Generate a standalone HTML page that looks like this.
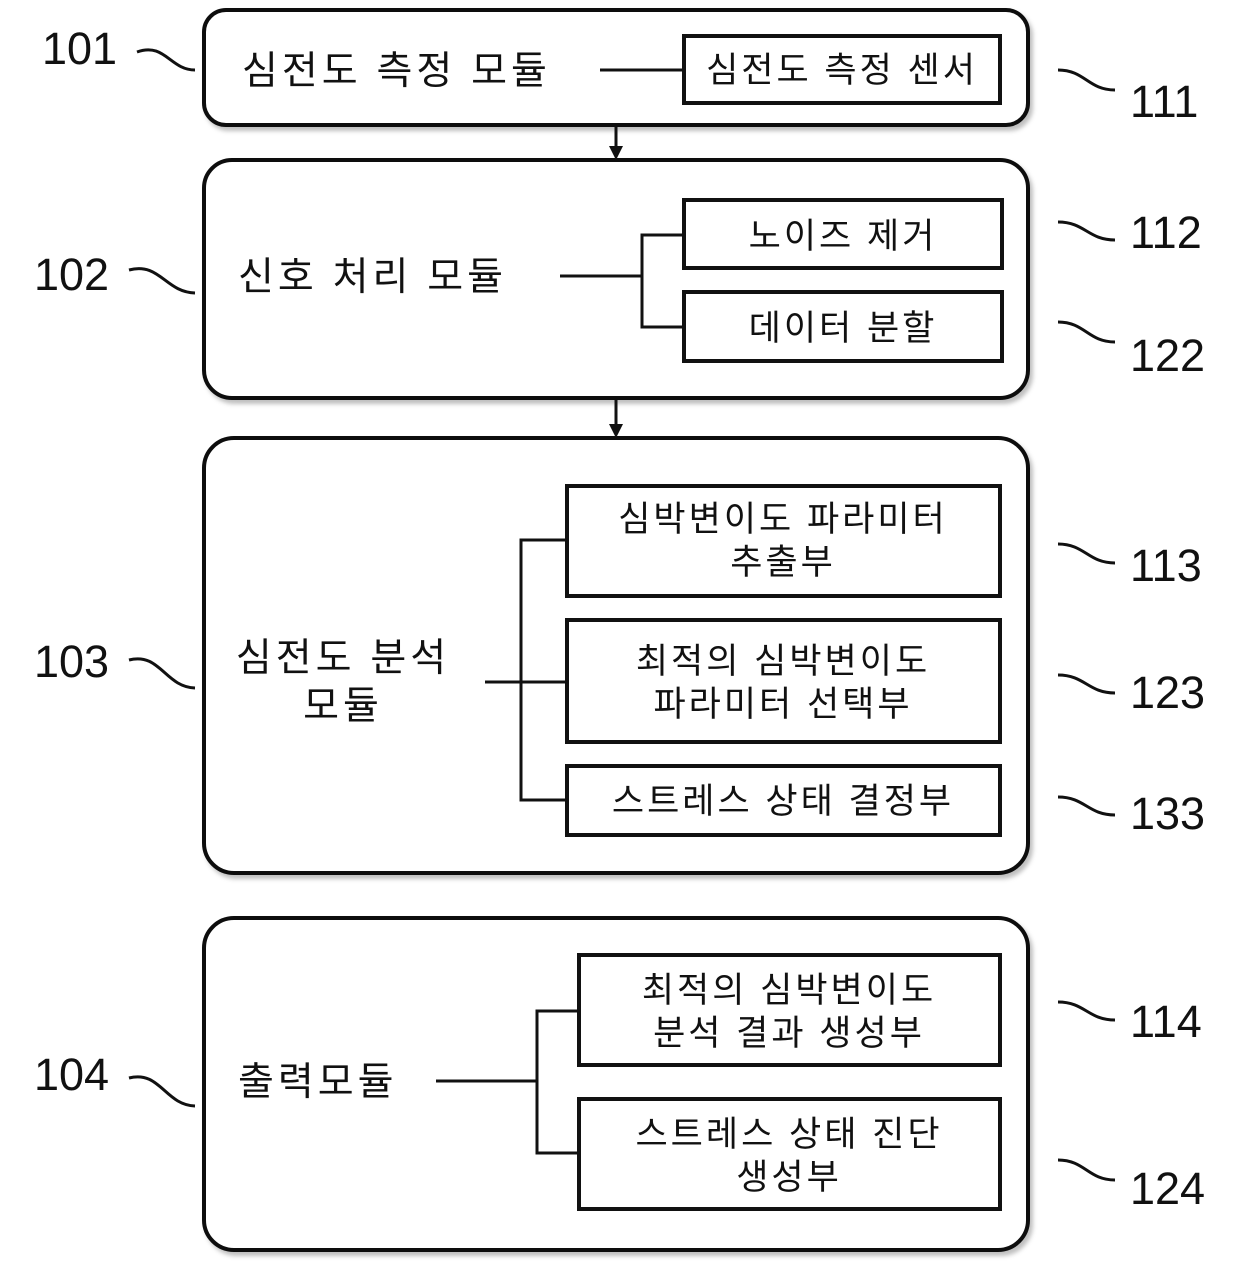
<!DOCTYPE html>
<html><head><meta charset="utf-8"><style>
html,body{margin:0;padding:0;background:#fff;}
svg{display:block;}
text{font-family:"Liberation Sans","Noto Sans CJK KR",sans-serif;fill:#111;}
.k{font-size:39px;letter-spacing:4px;}
.s{font-size:35px;letter-spacing:3px;}
.n{font-size:45px;}
</style></head><body>
<svg width="1240" height="1266" viewBox="0 0 1240 1266" xmlns="http://www.w3.org/2000/svg">
<defs>
<filter id="sh" x="-5%" y="-5%" width="110%" height="115%"><feDropShadow dx="3" dy="4" stdDeviation="2" flood-color="#000" flood-opacity="0.25"/></filter>
</defs>
<g fill="#fff" stroke="#111" stroke-width="4">
<rect x="204" y="10" width="824" height="115" rx="22" filter="url(#sh)"/>
<rect x="204" y="160" width="824" height="238" rx="28" filter="url(#sh)"/>
<rect x="204" y="438" width="824" height="435" rx="30" filter="url(#sh)"/>
<rect x="204" y="918" width="824" height="332" rx="30" filter="url(#sh)"/>
<rect x="684" y="36" width="316" height="67"/>
<rect x="684" y="200" width="318" height="68"/>
<rect x="684" y="292" width="318" height="69"/>
<rect x="567" y="486" width="433" height="110"/>
<rect x="567" y="620" width="433" height="122"/>
<rect x="567" y="766" width="433" height="69"/>
<rect x="579" y="955" width="421" height="110"/>
<rect x="579" y="1099" width="421" height="110"/>
</g>
<g fill="none" stroke="#111" stroke-width="3">
<line x1="600" y1="70" x2="684" y2="70"/>
<line x1="560" y1="276" x2="642" y2="276"/>
<polyline points="684,235 642,235 642,327 684,327"/>
<line x1="485" y1="682" x2="567" y2="682"/>
<polyline points="567,540 521,540 521,800 567,800"/>
<line x1="436" y1="1081" x2="537" y2="1081"/>
<polyline points="579,1011 537,1011 537,1153 579,1153"/>
<line x1="616" y1="127" x2="616" y2="150"/>
<line x1="616" y1="400" x2="616" y2="428"/>
<path d="M137,52 C165,42 170,70 195,70"/>
<path d="M129,270 C160,262 165,292 195,293"/>
<path d="M129,660 C160,652 165,687 195,688"/>
<path d="M129,1078 C160,1070 165,1105 195,1106"/>
<path d="M1058,70 C1085,70 1088,90 1115,90"/>
<path d="M1058,222 C1085,222 1088,240 1115,240"/>
<path d="M1058,322 C1085,322 1088,342 1115,342"/>
<path d="M1058,544 C1085,544 1088,563 1115,563"/>
<path d="M1058,675 C1085,675 1088,693 1115,693"/>
<path d="M1058,797 C1085,797 1088,815 1115,815"/>
<path d="M1058,1002 C1085,1002 1088,1020 1115,1020"/>
<path d="M1058,1160 C1085,1160 1088,1180 1115,1180"/>
</g>
<polygon points="609,146 623,146 616,160" fill="#111"/>
<polygon points="609,424 623,424 616,438" fill="#111"/>
<text class="k" x="242" y="84">심전도 측정 모듈</text>
<text class="s" x="842" y="82" text-anchor="middle">심전도 측정 센서</text>
<text class="k" x="238" y="290">신호 처리 모듈</text>
<text class="s" x="843" y="248" text-anchor="middle">노이즈 제거</text>
<text class="s" x="843" y="340" text-anchor="middle">데이터 분할</text>
<text class="k" x="343" y="671" text-anchor="middle">심전도 분석</text>
<text class="k" x="343" y="719" text-anchor="middle">모듈</text>
<text class="s" x="783" y="531" text-anchor="middle">심박변이도 파라미터</text>
<text class="s" x="783" y="574" text-anchor="middle">추출부</text>
<text class="s" x="783" y="673" text-anchor="middle">최적의 심박변이도</text>
<text class="s" x="783" y="716" text-anchor="middle">파라미터 선택부</text>
<text class="s" x="783" y="813" text-anchor="middle">스트레스 상태 결정부</text>
<text class="k" x="238" y="1095">출력모듈</text>
<text class="s" x="789" y="1002" text-anchor="middle">최적의 심박변이도</text>
<text class="s" x="789" y="1045" text-anchor="middle">분석 결과 생성부</text>
<text class="s" x="789" y="1146" text-anchor="middle">스트레스 상태 진단</text>
<text class="s" x="789" y="1189" text-anchor="middle">생성부</text>
<text class="n" x="42" y="64">101</text>
<text class="n" x="34" y="290">102</text>
<text class="n" x="34" y="677">103</text>
<text class="n" x="34" y="1090">104</text>
<text class="n" x="1130" y="117">111</text>
<text class="n" x="1130" y="248">112</text>
<text class="n" x="1130" y="371">122</text>
<text class="n" x="1130" y="581">113</text>
<text class="n" x="1130" y="708">123</text>
<text class="n" x="1130" y="829">133</text>
<text class="n" x="1130" y="1037">114</text>
<text class="n" x="1130" y="1204">124</text>
</svg>
</body></html>
